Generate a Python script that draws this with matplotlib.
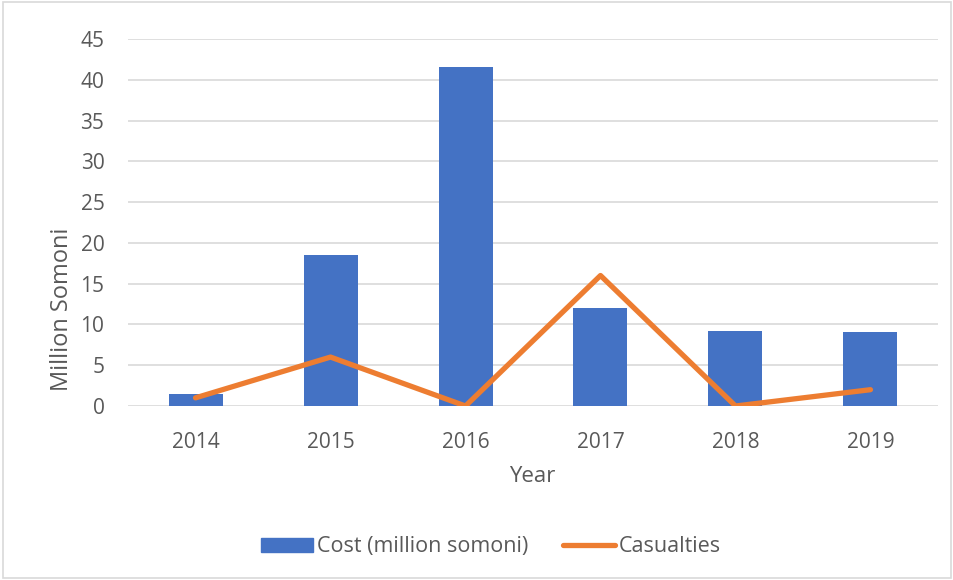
import matplotlib
matplotlib.use("Agg")
import matplotlib.pyplot as plt
from matplotlib.patches import Rectangle
from matplotlib.lines import Line2D

years = ["2014", "2015", "2016", "2017", "2018", "2019"]
cost = [1.5, 18.5, 41.6, 12.0, 9.2, 9.1]
casualties = [1, 6, 0, 16, 0, 2]
y_ticks = [0, 5, 10, 15, 20, 25, 30, 35, 40, 45]

BAR = "#4472C4"
LINE = "#ED7D31"
GRID = "#D9D9D9"
TEXT = "#595959"

plt.rcParams["font.family"] = ["Open Sans", "DejaVu Sans"]

fig = plt.figure(figsize=(9.54, 5.8), dpi=100)
fig.patch.set_facecolor("white")
fig.add_artist(Rectangle((0.003, 0.003), 0.994, 0.994, transform=fig.transFigure,
                         fill=False, edgecolor=GRID, linewidth=1.2))

ax = fig.add_axes([0.1342, 0.3, 0.849, 0.6328])
x = list(range(len(years)))
ax.bar(x, cost, width=0.4, color=BAR, zorder=2, label="Cost (million somoni)")
ax.plot(x, casualties, color=LINE, linewidth=3.8, solid_capstyle="round",
        solid_joinstyle="round", zorder=3, label="Casualties")

ax.set_xlim(-0.5, len(years) - 0.5)
ax.set_ylim(0, 45)
ax.set_yticks(y_ticks)
ax.set_xticks(x)
ax.set_xticklabels(years)
ax.grid(axis="y", color=GRID, linewidth=1.2, zorder=0)
ax.set_axisbelow(True)
for s in ax.spines.values():
    s.set_visible(False)
ax.tick_params(axis="both", length=0, colors=TEXT, labelsize=15)
ax.tick_params(axis="y", pad=17)
ax.tick_params(axis="x", pad=19)

# axis titles
fig.text(0.065, 0.467, "Million Somoni", rotation=90, ha="center", va="center",
         fontsize=17, color=TEXT)
fig.text(0.5577, 0.179, "Year", ha="center", va="center", fontsize=16, color=TEXT)

handles = [Rectangle((0, 0), 1, 1, color=BAR),
           Line2D([0], [0], color=LINE, linewidth=3.8, solid_capstyle="round")]
fig.legend(handles, ["Cost (million somoni)", "Casualties"], loc="center",
           bbox_to_anchor=(0.515, 0.057), ncol=2, frameon=False, fontsize=15.5,
           labelcolor=TEXT, handlelength=2.4, handletextpad=0.2, columnspacing=1.6,
           handleheight=0.65)

fig.savefig("out.png", dpi=100, facecolor="white")
